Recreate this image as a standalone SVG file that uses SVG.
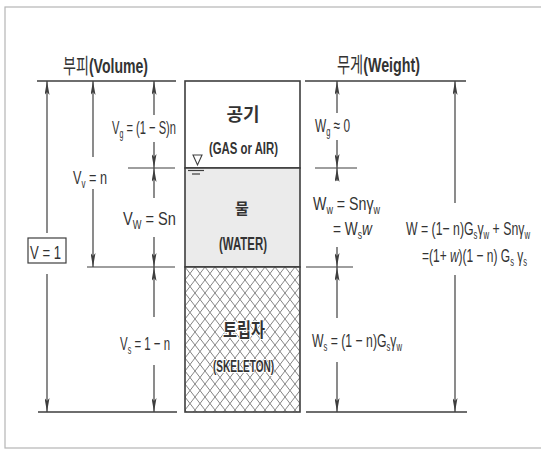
<svg xmlns="http://www.w3.org/2000/svg" width="541" height="449" viewBox="0 0 541 449">
<style>
.ln{stroke:#3e3e3e;stroke-width:1.4;fill:none}
.bx{stroke:#3e3e3e;stroke-width:1.6}
.dim{stroke:#3e3e3e;stroke-width:1.2;fill:none}
.ua{marker-start:url(#ah)}
.da{marker-end:url(#ah)}
.f{font-family:"Liberation Sans Narrow","Liberation Sans",Arial,sans-serif;font-size:19px;fill:#333}
.s{font-size:12px;baseline-shift:-4px}
.h{font-family:"Liberation Sans Narrow","Liberation Sans","Noto Sans CJK KR",sans-serif;font-size:21px;fill:#333}
.k{font-family:"Noto Sans CJK KR",sans-serif}
.c{font-family:"Liberation Sans Narrow","Liberation Sans","Noto Sans CJK KR",sans-serif;font-weight:bold;fill:#333;text-anchor:middle}
</style>
<defs>
<marker id="ah" viewBox="0 0 14 5" refX="14" refY="2.5" markerWidth="14" markerHeight="5" markerUnits="userSpaceOnUse" orient="auto-start-reverse">
<path d="M0,0 L14,2.5 L0,5 L3,2.5 Z" fill="#3e3e3e"/>
</marker>
<pattern id="hatch" patternUnits="userSpaceOnUse" x="185" y="267" width="10" height="13">
<rect width="10" height="13" fill="#fff"/>
<path d="M0,0 L10,13 M10,0 L0,13" stroke="#858585" stroke-width="1"/>
</pattern>
</defs>
<rect width="541" height="449" fill="#fff"/>
<rect x="5" y="7" width="545" height="441" fill="none" stroke="#b5b5b5" stroke-width="1.2"/>

<g id="header-volume"><text class="h" x="63" y="73" textLength="85" lengthAdjust="spacingAndGlyphs"><tspan class="k">부피</tspan><tspan font-weight="bold">(Volume)</tspan></text></g>
<g id="header-weight"><text class="h" x="337" y="72" textLength="83" lengthAdjust="spacingAndGlyphs"><tspan class="k">무게</tspan><tspan font-weight="bold">(Weight)</tspan></text></g>

<g id="phase-gas">
<rect x="185" y="81" width="115" height="87" fill="#fff" class="bx"/>
<text class="c k" x="243" y="121" font-size="18">공기</text>
<text class="c" x="243.5" y="154" font-size="16" textLength="69" lengthAdjust="spacingAndGlyphs">(GAS or AIR)</text>
</g>
<g id="phase-water">
<rect x="185" y="168" width="115" height="99" fill="#ebebeb" class="bx"/>
<text class="c k" x="242" y="214" font-size="15">물</text>
<text class="c" x="243" y="250" font-size="18" textLength="48" lengthAdjust="spacingAndGlyphs">(WATER)</text>
<g id="water-table">
<polygon points="193,155 202,155 197.5,165" fill="#fff" stroke="#3e3e3e" stroke-width="1.1"/>
<line x1="188" y1="170.5" x2="204" y2="170.5" class="dim"/>
<line x1="192" y1="174" x2="200" y2="174" class="dim"/>
</g>
</g>
<g id="phase-solid">
<rect x="185" y="267" width="115" height="145" fill="url(#hatch)" class="bx"/>
<text class="c k" x="244" y="337" font-size="19" textLength="42" lengthAdjust="spacingAndGlyphs" stroke="#fff" stroke-width="2" paint-order="stroke">토립자</text>
<text class="c" x="243.5" y="372" font-size="16" textLength="61" lengthAdjust="spacingAndGlyphs" stroke="#fff" stroke-width="2" paint-order="stroke">(SKELETON)</text>
</g>

<g id="connectors">
<line class="ln" x1="37" y1="81" x2="176" y2="81"/>
<line class="ln" x1="38" y1="412" x2="177" y2="412"/>
<line class="dim" x1="128" y1="168" x2="175" y2="168"/>
<line class="dim" x1="87" y1="267" x2="175" y2="267"/>
<line class="dim ua" x1="47" y1="81" x2="47" y2="233"/>
<line class="dim da" x1="47" y1="274" x2="47" y2="412"/>
<line class="dim ua" x1="93" y1="81" x2="93" y2="157"/>
<line class="dim da" x1="93" y1="189" x2="93" y2="267"/>
<line class="dim ua" x1="154" y1="81" x2="154" y2="115"/>
<line class="dim da" x1="154" y1="142" x2="154" y2="168"/>
<line class="dim ua" x1="154" y1="168" x2="154" y2="198"/>
<line class="dim da" x1="154" y1="237" x2="154" y2="267"/>
<line class="dim ua" x1="154" y1="267" x2="154" y2="317"/>
<line class="dim da" x1="154" y1="365" x2="154" y2="412"/>

<line class="ln" x1="305" y1="81" x2="466" y2="81"/>
<line class="ln" x1="306" y1="412" x2="467" y2="412"/>
<line class="dim" x1="315" y1="168" x2="357" y2="168"/>
<line class="dim" x1="306" y1="267" x2="353" y2="267"/>
<line class="dim ua" x1="337" y1="81" x2="337" y2="113"/>
<line class="dim da" x1="337" y1="140" x2="337" y2="168"/>
<line class="dim ua" x1="337" y1="168" x2="337" y2="181"/>
<line class="dim da" x1="337" y1="247" x2="337" y2="267"/>
<line class="dim ua" x1="337" y1="267" x2="337" y2="318"/>
<line class="dim da" x1="337" y1="362" x2="337" y2="412"/>
<line class="dim ua" x1="455" y1="81" x2="455" y2="203"/>
<line class="dim da" x1="455" y1="275" x2="455" y2="412"/>
</g>

<g id="volume-labels">
<text class="f" x="112" y="134" textLength="64" lengthAdjust="spacingAndGlyphs">V<tspan class="s">g</tspan> = (1 − S)n</text>
<text class="f" x="73" y="184" textLength="34" lengthAdjust="spacingAndGlyphs">V<tspan class="s">v</tspan> = n</text>
<text class="f" x="123" y="225" textLength="53" lengthAdjust="spacingAndGlyphs">V<tspan class="s">W</tspan> = Sn</text>
<text class="f" x="120" y="350" textLength="50" lengthAdjust="spacingAndGlyphs">V<tspan class="s">s</tspan> = 1 − n</text>
<g id="v-total">
<rect x="28" y="238" width="38" height="25" fill="#fff" stroke="#3e3e3e" stroke-width="1.2"/>
<text class="f" x="30" y="259" textLength="31" lengthAdjust="spacingAndGlyphs">V = 1</text>
</g>
</g>

<g id="weight-labels">
<text class="f" x="315" y="132" textLength="35" lengthAdjust="spacingAndGlyphs">W<tspan class="s">g</tspan> ≈ 0</text>
<text class="f" x="313" y="210" textLength="67" lengthAdjust="spacingAndGlyphs">W<tspan class="s">w</tspan> = Snγ<tspan class="s">w</tspan></text>
<text class="f" x="333" y="235" textLength="39" lengthAdjust="spacingAndGlyphs">= W<tspan class="s">s</tspan><tspan font-style="italic">w</tspan></text>
<text class="f" x="312" y="347" textLength="90" lengthAdjust="spacingAndGlyphs">W<tspan class="s">s</tspan> = (1 − n)G<tspan class="s">s</tspan>γ<tspan class="s">w</tspan></text>
<text class="f" x="406" y="235" textLength="124" lengthAdjust="spacingAndGlyphs">W = (1− n)G<tspan class="s">s</tspan>γ<tspan class="s">w</tspan> + Snγ<tspan class="s">w</tspan></text>
<text class="f" x="422" y="262" textLength="105" lengthAdjust="spacingAndGlyphs">=(1+ <tspan font-style="italic">w</tspan>)(1 − n) G<tspan class="s">s</tspan> γ<tspan class="s">s</tspan></text>
</g>
</svg>
